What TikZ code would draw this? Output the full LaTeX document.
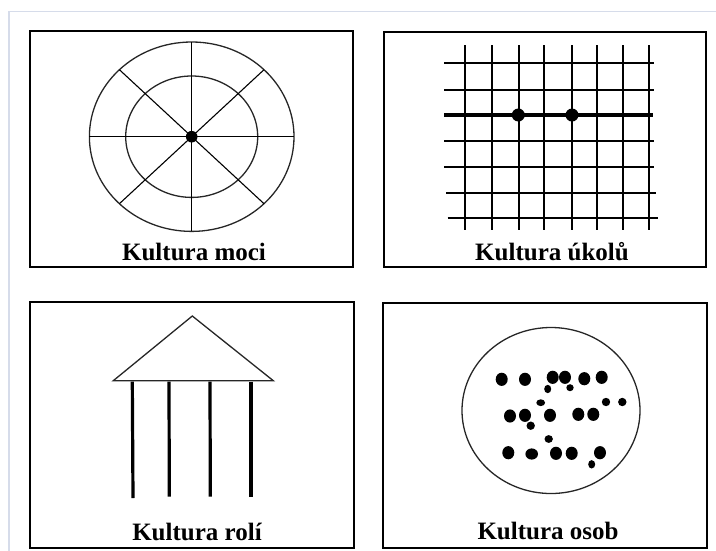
\documentclass[tikz,border=0pt]{standalone}
\usepackage{fontspec}
\setmainfont{Liberation Serif}
\begin{document}
\begin{tikzpicture}[x=1pt,y=-1pt,
  panel/.style={draw=black,line width=2.8pt},
  lbl/.style={font=\fontsize{25}{30}\selectfont\bfseries, anchor=base, inner sep=0pt},
  fine/.style={draw=black!85, line width=1.3pt},
  spoke/.style={draw=black, line width=1.1pt},
  gridline/.style={draw=black, line width=1.9pt},
  column/.style={draw=black, line width=3.2pt},
  bigdot/.style={fill=black},
]
\useasboundingbox (0,0) rectangle (716,550);
\definecolor{pageedge}{RGB}{214,220,234}
\draw[pageedge, line width=1.2pt] (9,560) -- (9,11.5) -- (720,11.5);

% ---------- Panel 1: Kultura moci ----------
\draw[panel] (30,31) rectangle (353,267);
\coordinate (c1) at (191.7,136.7);
\draw[fine] (c1) ellipse [x radius=102.3pt, y radius=94.7pt];
\draw[fine] (c1) ellipse [x radius=66pt, y radius=60.7pt];
\draw[spoke] (191.7,42) -- (191.7,231.4);
\draw[spoke] (89.4,136.7) -- (294,136.7);
\draw[spoke] (119.4,69.7) -- (264,203.7);
\draw[spoke] (264,69.7) -- (119.4,203.7);
\fill (c1) circle [radius=5.8pt];
\node[lbl] (t1) at (194,260) {Kultura moci};

% ---------- Panel 2: Kultura úkolů ----------
\draw[panel] (384,32) rectangle (706,267);
\foreach \x in {465.3,492,518.7,544.3,572,596.7,622.7,649.3}
  \draw[gridline] (\x,45) -- (\x,229.5);
\foreach \y/\a/\b in {63.3/444.3/654.3, 90/444.3/654.3, 140.7/444.3/654.3, 167.3/444.3/654.3, 192.7/446/656, 218.3/447.7/658}
  \draw[gridline] (\a,\y) -- (\b,\y);
\draw[draw=black, line width=3.2pt] (444.3,115) -- (653,115);
\fill (518.3,115) circle [radius=6.5pt];
\fill (572,115) circle [radius=6.5pt];
\node[lbl] (t2) at (552,260.5) {Kultura úkolů};

% ---------- Panel 3: Kultura rolí ----------
\draw[panel] (30,302) rectangle (354,548);
\draw[fine] (113.3,380.7) -- (192.3,316) -- (273.3,380.7) -- cycle;
\draw[column] (132.3,381.7) -- (133,498);
\draw[column] (169,381.7) -- (169.3,496.7);
\draw[column] (210,381.7) -- (210.3,496.7);
\draw[column] (251,381.7) -- (251,496.7);
\node[lbl] (t3) at (197,540) {Kultura rolí};

% ---------- Panel 4: Kultura osob ----------
\draw[panel] (383,303) rectangle (707,548);
\draw[fine] (551,410.5) ellipse [x radius=89pt, y radius=83pt];
% big dots
\foreach \x/\y in {501.7/379.3, 525/379.3, 552.7/377.3, 565/377.3, 584.3/378.7, 601.7/377.3,
                   510/416, 525/415.3, 550/415.3, 578.3/414.3, 593.3/414.3,
                   508.3/452.7, 556/453.3, 571.7/453.3, 600/452.7}
  \fill (\x,\y) ellipse [x radius=6pt, y radius=6.6pt];
\fill (531.7,454) ellipse [x radius=6.3pt, y radius=5.6pt];
% small dots
\fill (547.7,389) ellipse [x radius=3.5pt, y radius=4.2pt];
\fill (570,387.7) ellipse [x radius=3.7pt, y radius=3.5pt];
\fill (540.7,402.7) ellipse [x radius=4.4pt, y radius=3.4pt];
\fill (606,402) circle [radius=4.2pt];
\fill (622.3,402) circle [radius=4.2pt];
\fill (530.7,425.7) circle [radius=4.2pt];
\fill (548.7,439) ellipse [x radius=4.2pt, y radius=3.9pt];
\fill (591.7,464.3) ellipse [x radius=3.5pt, y radius=4.2pt];
\node[lbl] (t4) at (548,539.5) {Kultura osob};
\end{tikzpicture}
\end{document}
